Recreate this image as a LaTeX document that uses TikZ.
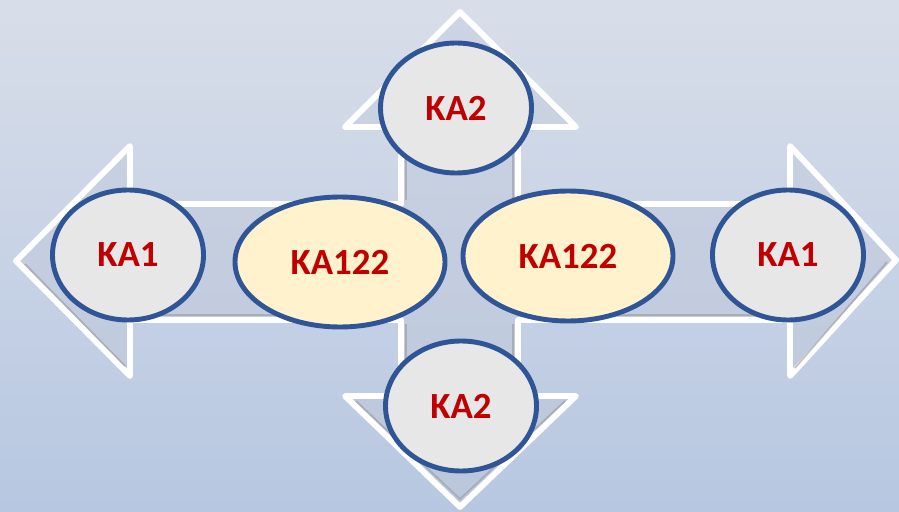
\documentclass[tikz,border=0pt]{standalone}
\usepackage{fontspec}
\setmainfont{Carlito}
\usetikzlibrary{shapes.geometric}
\definecolor{bgtop}{HTML}{D8DEE9}
\definecolor{bgbot}{HTML}{B7C7E1}
\definecolor{arrtop}{HTML}{CDD5E3}
\definecolor{arrbot}{HTML}{BAC6DB}
\definecolor{rim}{HTML}{2F5597}
\definecolor{greyfill}{HTML}{E7E7E7}
\definecolor{creamfill}{HTML}{FFF2CC}
\definecolor{txtred}{HTML}{C00000}
\tikzset{
  bubble/.style={ellipse, draw=rim, line width=4.2pt, inner sep=0pt,
    font=\fontsize{31.5}{33}\selectfont\bfseries, text=txtred},
  small/.style={bubble, fill=greyfill, minimum width=4.53cm, minimum height=3.9cm},
  wide/.style={bubble, fill=creamfill, minimum width=6.3cm, minimum height=3.9cm},
}
\begin{document}
\begin{tikzpicture}[x=0.03cm,y=-0.03cm]
\useasboundingbox (0,0) rectangle (899,512);
\shade[top color=bgtop, bottom color=bgbot] (0,0) rectangle (899,512);
% four-way arrow
\path[top color=arrtop, bottom color=arrbot, draw=white, line width=5pt, line join=round]
  (16,261) -- (130,146) -- (130,204) -- (401,204) -- (401,127) -- (345,127)
  -- (460,12) -- (576,127) -- (518,127) -- (518,204) -- (790,204) -- (790,146)
  -- (896,260) -- (790,376) -- (790,320) -- (518,320) -- (518,396) -- (576,396)
  -- (460,507) -- (345,396) -- (401,396) -- (401,320) -- (130,320) -- (130,376) -- cycle;
% subtle bevel shadows
\draw[black!40, line width=1.4pt, opacity=0.6]
  (25,264) -- (125,366) (135,315) -- (397,315) (522,315) -- (785,315) (795,368) -- (887,262)
  (406,200) -- (406,132) (513,200) -- (513,132) (406,324) -- (406,391) (513,324) -- (513,391)
  (356,401) -- (460,499) -- (565,401);
% bubbles
\node[small] (ka1l) at (128,255) {KA1};
\node[small] (ka1r) at (788,255) {KA1};
\node[small] (ka2t) at (456,108) {KA2};
\node[small] (ka2b) at (461,406) {KA2};
\node[wide] (ka122l) at (340,262) {KA122};
\node[wide] (ka122r) at (568,256) {KA122};
\end{tikzpicture}
\end{document}
